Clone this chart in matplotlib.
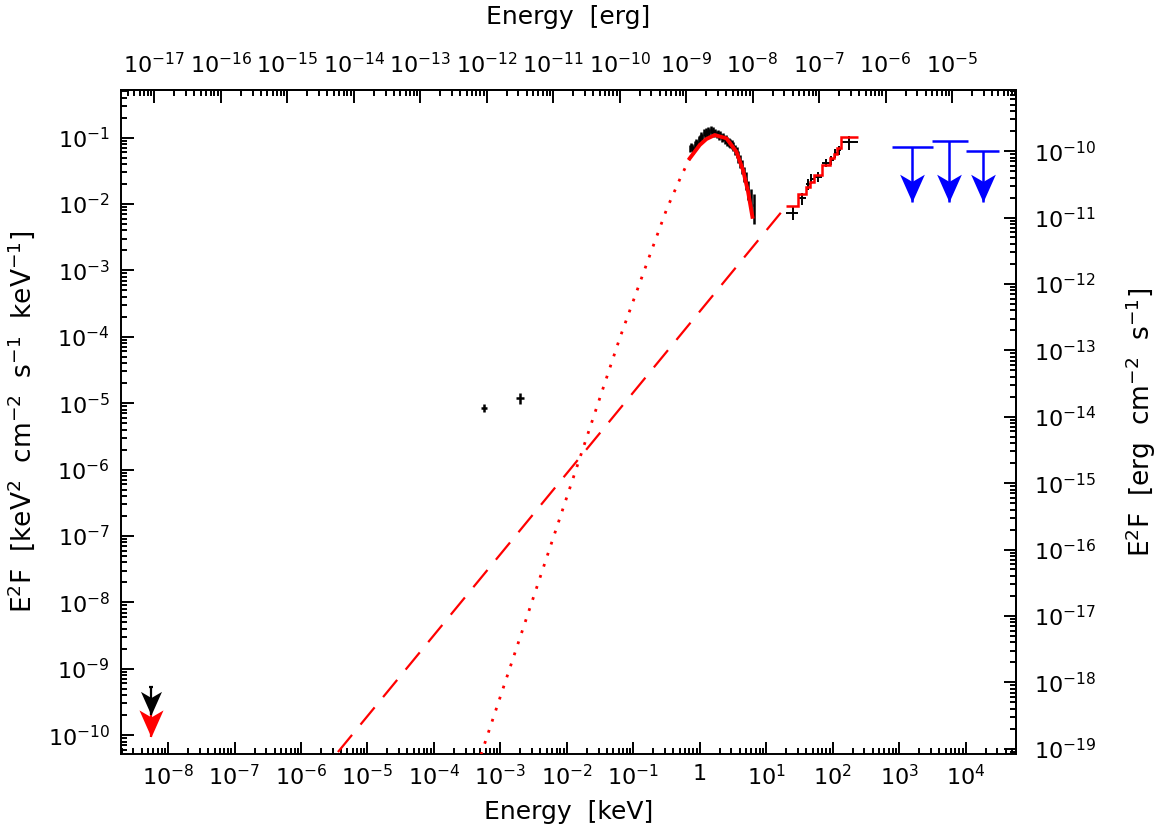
#!/usr/bin/env python3

import numpy as np
import matplotlib

matplotlib.use("Agg")

import matplotlib.pyplot as plt
from matplotlib.path import Path
from matplotlib.ticker import FixedLocator, FuncFormatter, NullFormatter

KEV_TO_ERG = 1.602e-9

X_LIMITS = (1.96e-9, 5.65e4)
Y_LIMITS = (5.2e-11, 0.52)

# XRT spectrum (keV, keV^2 cm^-2 s^-1 keV^-1, relative error)
xrt_energy = [0.72, 0.74, 0.76, 0.78, 0.80, 0.84, 0.88, 0.92, 0.96, 1.00,
              1.05, 1.10, 1.15, 1.20, 1.25, 1.30, 1.35, 1.40, 1.46, 1.52,
              1.58, 1.65, 1.72, 1.80, 1.88, 1.96, 2.05, 2.15, 2.25, 2.36,
              2.48, 2.60, 2.74, 2.88, 3.03, 3.20, 3.38, 3.58, 3.80, 4.05,
              4.32, 4.62, 4.95, 5.35, 5.85, 6.45]
xrt_flux = [0.068, 0.075, 0.072, 0.064, 0.066, 0.078, 0.085, 0.082, 0.094, 0.098,
            0.108, 0.102, 0.118, 0.112, 0.125, 0.116, 0.130, 0.121, 0.134, 0.118,
            0.127, 0.115, 0.122, 0.110, 0.117, 0.106, 0.112, 0.100, 0.104, 0.094,
            0.096, 0.088, 0.086, 0.082, 0.080, 0.074, 0.066, 0.060, 0.052, 0.045,
            0.037, 0.029, 0.023, 0.017, 0.012, 0.0095]
xrt_rel_err = [0.12, 0.12, 0.12, 0.12, 0.12, 0.12, 0.12, 0.12, 0.12, 0.12,
               0.12, 0.12, 0.12, 0.12, 0.12, 0.12, 0.12, 0.12, 0.12, 0.12,
               0.12, 0.12, 0.12, 0.12, 0.12, 0.12, 0.12, 0.14, 0.14, 0.14,
               0.14, 0.14, 0.15, 0.15, 0.16, 0.16, 0.17, 0.18, 0.20, 0.22,
               0.24, 0.26, 0.30, 0.32, 0.38, 0.48]

# model curve over the XRT band
model_energy = [0.707, 1.0, 1.26, 1.68, 2.52, 3.56, 4.48, 5.33, 6.2]
model_flux = [0.0486, 0.0771, 0.0949, 0.109, 0.0972, 0.0611, 0.0324, 0.0153, 0.0064]

# extrapolated thermal component (dotted)
thermal_energy = [3.48e-4, 5.27e-4, 2.78e-3, 1.32e-2, 6.27e-2, 0.183, 0.319, 0.513, 0.707]
thermal_flux = [1.6e-11, 5.56e-11, 8.2e-9, 8.85e-7, 9.55e-5, 1.84e-3, 8.4e-3, 0.0248, 0.0486]

# extrapolated power law (dashed)
pl_energy = [3.6e-6, 20.1]
pl_flux = [5.56e-11, 9.3e-3]

# BAT model histogram
bat_edges = [20.1, 30.1, 40.2, 45.1, 51.8, 70.0, 90.1, 103.0, 116.0, 135.0, 240.0]
bat_model = [9.3e-3, 0.0140, 0.0182, 0.0216, 0.0272, 0.0385, 0.0486, 0.0565, 0.0687, 0.1007]

# BAT data points
bat_energy = [25.0, 35.0, 42.5, 48.0, 60.0, 80.0, 96.0, 110.0, 125.0, 175.0]
bat_e_lo = [20.1, 30.1, 40.2, 45.1, 51.8, 70.0, 90.1, 103.0, 116.0, 135.0]
bat_e_hi = [30.1, 40.2, 45.1, 51.8, 70.0, 90.1, 103.0, 116.0, 135.0, 240.0]
bat_flux = [7.4e-3, 0.0122, 0.0200, 0.0240, 0.0257, 0.0420, 0.0460, 0.0580, 0.0650, 0.0850]
bat_rel_err = [0.22, 0.20, 0.18, 0.18, 0.16, 0.15, 0.15, 0.15, 0.16, 0.25]

# optical / UV points
uv_energy = [5.7e-4, 1.96e-3]
uv_flux = [8.5e-6, 1.18e-5]
uv_dex_x = [0.045, 0.06]
uv_dex_y = [0.06, 0.08]

# high-energy upper limits (blue)
ul_energy = [1550.0, 5550.0, 1.8e4]
ul_e_lo = [771.0, 3080.0, 1.0e4]
ul_e_hi = [3190.0, 1.07e4, 3.13e4]
ul_flux = [0.0726, 0.0895, 0.0626]
ul_tip = [0.0107, 0.0107, 0.0107]

# radio upper limits
radio_energy = 5.55e-9
radio_black = (5.3e-10, 2.0e-10)
radio_red = (3.5e-10, 9.3e-11)


def arrow_head() -> Path:
    # tip at the origin, pointing down, notched back
    verts = [(0.0, 0.0), (-12.0, 27.0), (0.0, 20.0), (12.0, 27.0), (0.0, 0.0)]
    codes = [Path.MOVETO, Path.LINETO, Path.LINETO, Path.LINETO, Path.CLOSEPOLY]
    return Path(verts, codes)


def power_label(value, pos):
    exponent = int(round(np.log10(value)))
    if exponent == 0:
        return "1"
    return r"$\mathdefault{10^{%d}}$" % exponent


def setup_log_axis(axis, low, high) -> None:
    # only ticks inside the visible range
    decades = np.arange(np.floor(np.log10(low)) - 1, np.ceil(np.log10(high)) + 1)
    majors = 10.0 ** decades
    minors = np.outer(majors, np.arange(2, 10)).ravel()
    majors = majors[(majors >= low) & (majors <= high)]
    minors = minors[(minors >= low) & (minors <= high)]
    axis.set_major_locator(FixedLocator(majors))
    axis.set_minor_locator(FixedLocator(minors))
    axis.set_major_formatter(FuncFormatter(power_label))
    axis.set_minor_formatter(NullFormatter())


def main() -> None:
    plt.rcParams["font.family"] = ["DejaVu Sans"]
    plt.rcParams["mathtext.fontset"] = "dejavusans"
    plt.rcParams["mathtext.default"] = "regular"
    plt.rcParams["axes.linewidth"] = 1.4

    fig = plt.figure(figsize=(11.58, 8.30), dpi=100)
    ax = fig.add_axes([0.1045, 0.0916, 0.7725, 0.8000])
    ax.set_xscale("log")
    ax.set_yscale("log")
    ax.set_xlim(*X_LIMITS)
    ax.set_ylim(*Y_LIMITS)

    head = arrow_head()

    # data
    xrt_e = np.array(xrt_energy)
    xrt_f = np.array(xrt_flux)
    xrt_r = np.array(xrt_rel_err)
    ax.errorbar(xrt_e, xrt_f, xerr=[xrt_e * 0.025, xrt_e * 0.025],
                yerr=[xrt_f * xrt_r, xrt_f * xrt_r],
                fmt="none", ecolor="black", elinewidth=1.8, capsize=0, zorder=2)

    bat_e = np.array(bat_energy)
    bat_f = np.array(bat_flux)
    bat_r = np.array(bat_rel_err)
    ax.errorbar(bat_e, bat_f,
                xerr=[bat_e - np.array(bat_e_lo), np.array(bat_e_hi) - bat_e],
                yerr=[bat_f * bat_r, bat_f * bat_r],
                fmt="none", ecolor="black", elinewidth=1.4, capsize=0, zorder=2)

    uv_e = np.array(uv_energy)
    uv_f = np.array(uv_flux)
    dx = np.array(uv_dex_x)
    dy = np.array(uv_dex_y)
    ax.errorbar(uv_e, uv_f,
                xerr=[uv_e * (1 - 10 ** -dx), uv_e * (10 ** dx - 1)],
                yerr=[uv_f * (1 - 10 ** -dy), uv_f * (10 ** dy - 1)],
                fmt="none", ecolor="black", elinewidth=1.8, capsize=0, zorder=2)

    # models
    ax.plot(thermal_energy, thermal_flux, color="red", linestyle=(0, (1.0, 3.2)),
            linewidth=2.0, zorder=3)
    ax.plot(pl_energy, pl_flux, color="red", linestyle=(0, (10, 6)),
            linewidth=1.6, zorder=3)
    ax.plot(model_energy, model_flux, color="red", linewidth=2.8, zorder=4)
    ax.stairs(bat_model, bat_edges, baseline=None, color="red", linewidth=1.8, zorder=4)

    # high-energy upper limits
    ax.hlines(ul_flux, ul_e_lo, ul_e_hi, color="blue", linewidth=1.8, zorder=4)
    ax.vlines(ul_energy, ul_tip, ul_flux, color="blue", linewidth=1.8, zorder=4)
    ax.plot(ul_energy, ul_tip, linestyle="none", marker=head, markersize=40,
            markeredgewidth=0, color="blue", zorder=5)

    # radio upper limits
    ax.vlines(radio_energy, radio_red[1], radio_red[0], color="red", linewidth=1.6, zorder=4)
    ax.plot(radio_energy, radio_red[1], marker=head, markersize=39,
            markeredgewidth=0, color="red", zorder=5)
    ax.vlines(radio_energy, radio_black[1], radio_black[0], color="black", linewidth=1.6, zorder=6)
    ax.hlines(radio_black[0], radio_energy * 0.93, radio_energy * 1.07, color="black",
              linewidth=1.6, zorder=6)
    ax.plot(radio_energy, radio_black[1], marker=head, markersize=34,
            markeredgewidth=0, color="black", zorder=6)

    # axes
    setup_log_axis(ax.xaxis, *X_LIMITS)
    setup_log_axis(ax.yaxis, *Y_LIMITS)
    ax.tick_params(which="both", direction="in", top=False, right=False,
                   labelsize=16, width=1.4)
    ax.tick_params(which="major", length=9)
    ax.tick_params(which="minor", length=4.5)
    ax.tick_params(axis="x", pad=7)
    ax.tick_params(axis="y", pad=8)

    top = ax.secondary_xaxis("top", functions=(lambda e: e * KEV_TO_ERG,
                                                lambda e: e / KEV_TO_ERG))
    setup_log_axis(top.xaxis, X_LIMITS[0] * KEV_TO_ERG, X_LIMITS[1] * KEV_TO_ERG)
    top.tick_params(which="both", direction="in", labelsize=16, width=1.4, pad=9)
    top.tick_params(which="major", length=9)
    top.tick_params(which="minor", length=4.5)

    right = ax.secondary_yaxis("right", functions=(lambda f: f * KEV_TO_ERG,
                                                    lambda f: f / KEV_TO_ERG))
    setup_log_axis(right.yaxis, Y_LIMITS[0] * KEV_TO_ERG, Y_LIMITS[1] * KEV_TO_ERG)
    right.tick_params(which="both", direction="in", labelsize=16, width=1.4, pad=13)
    right.tick_params(which="major", length=9)
    right.tick_params(which="minor", length=4.5)

    ax.set_xlabel("Energy  [keV]", fontsize=18, labelpad=8)
    top.set_xlabel("Energy  [erg]", fontsize=18, labelpad=20)
    ax.set_ylabel(r"E$^2$F  [keV$^2$  cm$^{-2}$  s$^{-1}$  keV$^{-1}$]",
                  fontsize=19, labelpad=8)
    right.set_ylabel(r"E$^2$F  [erg  cm$^{-2}$  s$^{-1}$]", fontsize=19, labelpad=20)

    fig.savefig("out.png", dpi=100)
    plt.close(fig)


if __name__ == "__main__":
    main()
